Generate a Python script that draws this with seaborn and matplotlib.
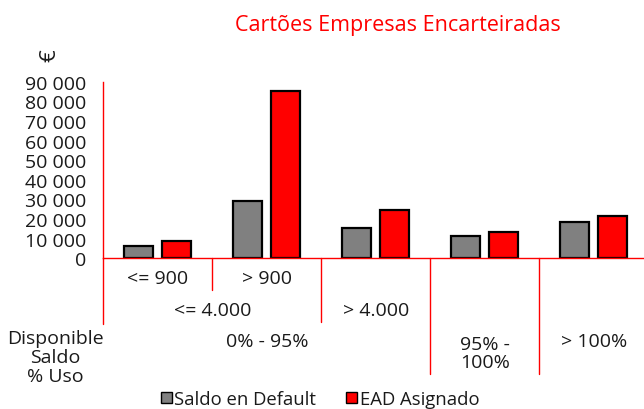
import matplotlib
matplotlib.use("Agg")
import matplotlib.pyplot as plt
import matplotlib.transforms as mtransforms
from matplotlib.ticker import FuncFormatter, MultipleLocator
from matplotlib.patches import Patch
import seaborn as sns
import pandas as pd

# ---- data ----
categories = ["<= 900", "> 900", "> 4.000", "95% - 100%", "> 100%"]
saldo_default = [6300, 29400, 15500, 11400, 18700]
ead_asignado = [8700, 85200, 24600, 13300, 21700]
series_names = ["Saldo en Default", "EAD Asignado"]
series_colors = ["#808080", "#FF0000"]

# hierarchical axis labels: (label, first category index, last category index)
level1 = [("<= 900", 0, 0), ("> 900", 1, 1)]
level2 = [("<= 4.000", 0, 1), ("> 4.000", 2, 2)]
level3 = [("0% - 95%", 0, 2), ("95% -\n100%", 3, 3), ("> 100%", 4, 4)]
row_title = "Disponible\nSaldo\n% Uso"
title = "Cartões Empresas Encarteiradas"
unit_label = "€"

df = pd.DataFrame({
    "cat": categories * 2,
    "serie": [series_names[0]] * len(categories) + [series_names[1]] * len(categories),
    "valor": saldo_default + ead_asignado,
})

sns.set_style("white")
plt.rcParams["font.family"] = ["Open Sans", "DejaVu Sans"]
TXT = "#1a1a1a"
RED = "#FF0000"
FS = 14

W, H = 644, 410
fig = plt.figure(figsize=(W / 100, H / 100), dpi=100)
ax_left, ax_right = 103.3, 644.0
ax_top, ax_bot = 82.7, 259.3
ax = fig.add_axes([ax_left / W, 1 - ax_bot / H, (ax_right - ax_left) / W, (ax_bot - ax_top) / H])

sns.barplot(data=df, x="cat", y="valor", hue="serie", order=categories,
            hue_order=series_names, palette=series_colors, saturation=1,
            width=0.7, gap=0.24, edgecolor="black", linewidth=1.6, ax=ax, legend=False)

ax.set_ylim(0, 90000)
ax.set_xlim(-0.5, 4.46)
ax.yaxis.set_major_locator(MultipleLocator(10000))
ax.yaxis.set_major_formatter(FuncFormatter(lambda v, p: f"{int(v):,}".replace(",", " ")))
ax.tick_params(axis="y", colors=RED, length=4, width=1, direction="out", labelsize=FS,
               labelcolor=TXT, pad=8)
ax.tick_params(axis="x", length=0, labelbottom=False)
ax.set_xlabel("")
ax.set_ylabel("")
for s in ["top", "right"]:
    ax.spines[s].set_visible(False)
for s in ["left", "bottom"]:
    ax.spines[s].set_color(RED)
    ax.spines[s].set_linewidth(1)

# hierarchical category axis
tr = mtransforms.blended_transform_factory(ax.transData, fig.transFigure)
def fy(px):
    return 1 - px / H

def vline(x, y_end):
    ax.plot([x, x], [fy(ax_bot), fy(y_end)], color=RED, lw=1, transform=tr, clip_on=False)

vline(-0.5, 325)
vline(0.5, 291)
vline(1.5, 323)
vline(2.5, 375)
vline(3.5, 375)

for lab, a, b in level1:
    ax.text((a + b) / 2, fy(279), lab, transform=tr, ha="center", va="center", fontsize=FS, color=TXT)
for lab, a, b in level2:
    ax.text((a + b) / 2, fy(311), lab, transform=tr, ha="center", va="center", fontsize=FS, color=TXT)
for lab, a, b in level3:
    ax.text((a + b) / 2, fy(342 if "\n" not in lab else 354), lab, transform=tr, ha="center",
            va="center", fontsize=FS, color=TXT, linespacing=1.0)

fig.text(55 / W, fy(358), row_title, ha="center", va="center", fontsize=FS, color=TXT,
         linespacing=1.08)

fig.text(397.5 / W, fy(25), title, ha="center", va="center", fontsize=15.5, color=RED)
fig.text(50 / W, fy(56), unit_label, ha="center", va="center", fontsize=16, color=TXT, rotation=90)

handles = [Patch(facecolor=c, edgecolor="black", linewidth=1) for c in series_colors]
fig.legend(handles, series_names, loc="center", bbox_to_anchor=(320 / W, fy(400)), ncol=2,
           frameon=False, fontsize=13.3, handlelength=0.6, handleheight=0.6, handletextpad=0.15,
           columnspacing=1.6, labelcolor=TXT, borderpad=0)

fig.savefig("out.png", dpi=100)
